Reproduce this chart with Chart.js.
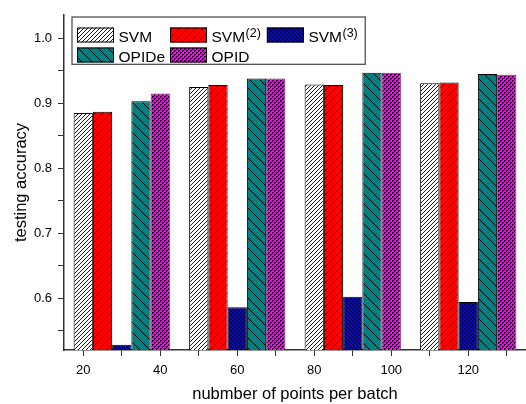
<!DOCTYPE html>
<html>
<head>
<meta charset="utf-8">
<script src="https://cdn.jsdelivr.net/npm/chart.js@4"></script>
<style>
  html, body { margin: 0; padding: 0; background: #fff; }
  canvas { display: block; }
</style>
</head>
<body>
<canvas id="chart" width="526" height="404"></canvas>
<script>
// group positions on the x axis and accuracy per method
const batchPos = [30, 60, 90, 120];
const svm   = [0.885, 0.925, 0.929, 0.931];
const svm2  = [0.887, 0.928, 0.928, 0.932];
const svm3  = [0.528, 0.586, 0.602, 0.594];
const opide = [0.903, 0.938, 0.947, 0.945];
const opid  = [0.915, 0.938, 0.947, 0.944];

const xTicks  = [20, 30, 40, 50, 60, 70, 80, 90, 100, 110, 120, 130];
const xLabels = [20, 40, 60, 80, 100, 120];
const yTicks  = [0.55, 0.6, 0.65, 0.7, 0.75, 0.8, 0.85, 0.9, 0.95, 1.0];
const yLabels = [0.6, 0.7, 0.8, 0.9, 1.0];

const FONT = '"Liberation Sans", Arial, sans-serif';

// small tiles used as bar fills
function hatch(bg, size, dir, lw) {
  const c = document.createElement('canvas');
  c.width = size; c.height = size;
  const g = c.getContext('2d');
  g.fillStyle = bg;
  g.fillRect(0, 0, size, size);
  g.strokeStyle = '#000';
  g.lineWidth = lw;
  g.beginPath();
  if (dir === '/') {
    g.moveTo(-1, size + 1); g.lineTo(size + 1, -1);
    g.moveTo(-1, 1); g.lineTo(1, -1);
    g.moveTo(size - 1, size + 1); g.lineTo(size + 1, size - 1);
  } else {
    g.moveTo(-1, -1); g.lineTo(size + 1, size + 1);
    g.moveTo(size - 1, -1); g.lineTo(size + 1, 1);
    g.moveTo(-1, size - 1); g.lineTo(1, size + 1);
  }
  g.stroke();
  return g.createPattern(c, 'repeat');
}

function dots(bg) {
  const c = document.createElement('canvas');
  c.width = 4; c.height = 4;
  const g = c.getContext('2d');
  g.fillStyle = bg;
  g.fillRect(0, 0, 4, 4);
  g.fillStyle = '#000';
  g.fillRect(0, 0, 2, 1);
  g.fillRect(2, 2, 2, 1);
  g.fillRect(0, 1, 1, 1);
  g.fillRect(2, 3, 1, 1);
  return g.createPattern(c, 'repeat');
}

const series = [
  { label: 'SVM',    data: svm,   fill: hatch('#fff', 4, '/', 0.9),     border: '#000' },
  { label: 'SVM(2)', data: svm2,  fill: hatch('#ff0000', 8, '/', 1),    border: '#000' },
  { label: 'SVM(3)', data: svm3,  fill: hatch('#0000ff', 4, '\\', 1),   border: '#000' },
  { label: 'OPIDe',  data: opide, fill: hatch('#008080', 10, '\\', 1),  border: '#000' },
  { label: 'OPID',   data: opid,  fill: dots('#ff00ff'),                border: '#7a2a7a' }
];

// legend laid out like a small table, with superscripts
const tableLegend = {
  id: 'tableLegend',
  afterDraw(chart) {
    const { ctx, chartArea } = chart;
    const sets = chart.data.datasets;
    const cols = 3, rowH = 20, swW = 37, swH = 15, gap = 4.5, colGap = 5, supGap = 0.5;
    const font = '15.5px ' + FONT;
    const supFont = '12.5px ' + FONT;
    ctx.save();
    const parts = sets.map(d => {
      const m = d.label.match(/^(.*?)(\(\d+\))$/);
      return m ? [m[1], m[2]] : [d.label, ''];
    });
    const widths = parts.map(([t, s]) => {
      ctx.font = font;
      let w = ctx.measureText(t).width;
      if (s) { ctx.font = supFont; w += supGap + ctx.measureText(s).width; }
      return w;
    });
    const colW = [];
    parts.forEach((p, i) => {
      const c = i % cols;
      colW[c] = Math.max(colW[c] || 0, swW + gap + widths[i]);
    });
    const rows = Math.ceil(sets.length / cols);
    const left = chartArea.left + 8, top = chartArea.top + 2;
    const padL = 5, padT = 10.5, padR = 8.5, padB = 1.8;
    const boxW = padL + colW.reduce((a, b) => a + b, 0) + colGap * (cols - 1) + padR;
    const boxH = padT + (rows - 1) * rowH + swH + padB;

    ctx.fillStyle = '#fff';
    ctx.fillRect(left, top, boxW, boxH);
    ctx.strokeStyle = '#444';
    ctx.lineWidth = 1.2;
    ctx.strokeRect(left, top, boxW, boxH);

    parts.forEach(([t, s], i) => {
      const c = i % cols, r = Math.floor(i / cols);
      let x = left + padL;
      for (let k = 0; k < c; k++) x += colW[k] + colGap + (k === 0 ? 0 : 1);
      const y = top + padT + r * rowH;
      ctx.fillStyle = sets[i].backgroundColor;
      ctx.fillRect(x, y, swW, swH);
      ctx.strokeStyle = '#000';
      ctx.lineWidth = 1;
      ctx.strokeRect(x + 0.5, y + 0.5, swW - 1, swH - 1);
      ctx.fillStyle = '#000';
      ctx.textBaseline = 'alphabetic';
      ctx.textAlign = 'left';
      ctx.font = font;
      const tx = x + swW + gap, ty = y + 14.5;
      ctx.fillText(t, tx, ty);
      if (s) {
        const w = ctx.measureText(t).width;
        ctx.font = supFont;
        ctx.fillText(s, tx + w + supGap, ty - 5);
      }
    });
    ctx.restore();
  }
};

new Chart(document.getElementById('chart'), {
  type: 'bar',
  data: {
    datasets: series.map(s => ({
      label: s.label,
      data: s.data.map((v, i) => ({ x: batchPos[i], y: v })),
      backgroundColor: s.fill,
      borderColor: s.border,
      borderWidth: 1,
      borderSkipped: 'start'
    }))
  },
  options: {
    responsive: false,
    animation: false,
    layout: { padding: { top: 15, right: 0, left: 0, bottom: 0 } },
    datasets: { bar: { categoryPercentage: 2.5, barPercentage: 1 } },
    plugins: { legend: { display: false }, tooltip: { enabled: false } },
    scales: {
      x: {
        type: 'linear',
        min: 15,
        max: 135,
        offset: false,
        afterBuildTicks: s => { s.ticks = xTicks.map(v => ({ value: v })); },
        afterFit: s => { s.height = 54; },
        ticks: {
          autoSkip: false,
          maxRotation: 0,
          padding: 7,
          color: '#000',
          font: { family: FONT, size: 13 },
          callback: v => xLabels.includes(v) ? String(v) : ''
        },
        grid: { offset: false, drawOnChartArea: false, tickLength: 6, color: '#333', tickWidth: 1 },
        border: { color: '#333', width: 1.5 },
        title: {
          display: true,
          text: 'nubmber of points per batch',
          color: '#000',
          font: { family: FONT, size: 16.5 },
          padding: { top: 2, bottom: 0 }
        }
      },
      y: {
        min: 0.52,
        max: 1.036,
        afterBuildTicks: s => { s.ticks = yTicks.map(v => ({ value: v })); },
        afterFit: s => { s.width = 64; },
        ticks: {
          autoSkip: false,
          padding: 6,
          color: '#000',
          font: { family: FONT, size: 13 },
          callback: v => yLabels.includes(v) ? v.toFixed(1) : ''
        },
        grid: { drawOnChartArea: false, tickLength: 6, color: '#333', tickWidth: 1 },
        border: { color: '#333', width: 1.5 },
        title: {
          display: true,
          text: 'testing accuracy',
          color: '#000',
          font: { family: FONT, size: 16.5 },
          padding: { top: 12, bottom: 3 }
        }
      }
    }
  },
  plugins: [tableLegend]
});
</script>
</body>
</html>
